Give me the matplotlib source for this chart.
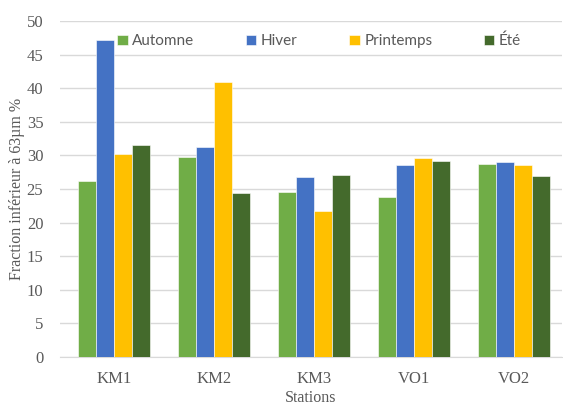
import numpy as np
import matplotlib.pyplot as plt

# Fraction < 63 µm per station and season
stations = ['KM1', 'KM2', 'KM3', 'VO1', 'VO2']
seasons = ['Automne', 'Hiver', 'Printemps', 'Été']
automne = [26.2, 29.8, 24.6, 23.8, 28.7]
hiver = [47.2, 31.3, 26.8, 28.6, 29.0]
printemps = [30.2, 40.9, 21.7, 29.6, 28.6]
ete = [31.5, 24.4, 27.1, 29.2, 26.9]
colors = ['#70AD47', '#4472C4', '#FFC000', '#446A2C']

series = [automne, hiver, printemps, ete]

fig = plt.figure(figsize=(5.63, 4.07), dpi=100)
ax = fig.add_axes([60 / 563, 1 - 357 / 407, 502 / 563, 336 / 407])

x = np.arange(len(stations))
w = 0.18
for i, (vals, name, c) in enumerate(zip(series, seasons, colors)):
    ax.bar(x + (i - 1.5) * w, vals, width=w, color=c, label=name,
           edgecolor='white', linewidth=0.4, zorder=3)

ax.set_xlim(-0.54, 4.48)
ax.set_ylim(0, 50)
ax.set_yticks(range(0, 51, 5))
ax.set_xticks(x)
ax.set_xticklabels(stations)
ax.grid(axis='y', color='#D9D9D9', linewidth=1, zorder=0)
for s in ['top', 'right', 'left']:
    ax.spines[s].set_visible(False)
ax.spines['bottom'].set_color('#D9D9D9')
ax.tick_params(length=0, colors='#595959', labelsize=12)
ax.tick_params(axis='y', pad=12)
ax.tick_params(axis='x', pad=10)
for lab in ax.get_xticklabels() + ax.get_yticklabels():
    lab.set_fontfamily('Liberation Serif')

ax.set_xlabel('Stations', family='Liberation Serif', fontsize=11.5,
              color='#595959')
ax.set_ylabel('Fraction inférieur à 63µm %', family='Liberation Serif',
              fontsize=11.5, color='#595959')
ax.xaxis.set_label_coords(0.5, -0.098)
ax.yaxis.set_label_coords(-0.07, 0.5)

leg = ax.legend(loc='center', bbox_to_anchor=(0.516, 0.94), ncol=4,
                frameon=False, handlelength=0.7, handleheight=0.7,
                handletextpad=0.3, columnspacing=3.35,
                prop={'family': 'Lato', 'size': 11})
for t in leg.get_texts():
    t.set_color('#595959')

fig.savefig('out.png', dpi=100)
